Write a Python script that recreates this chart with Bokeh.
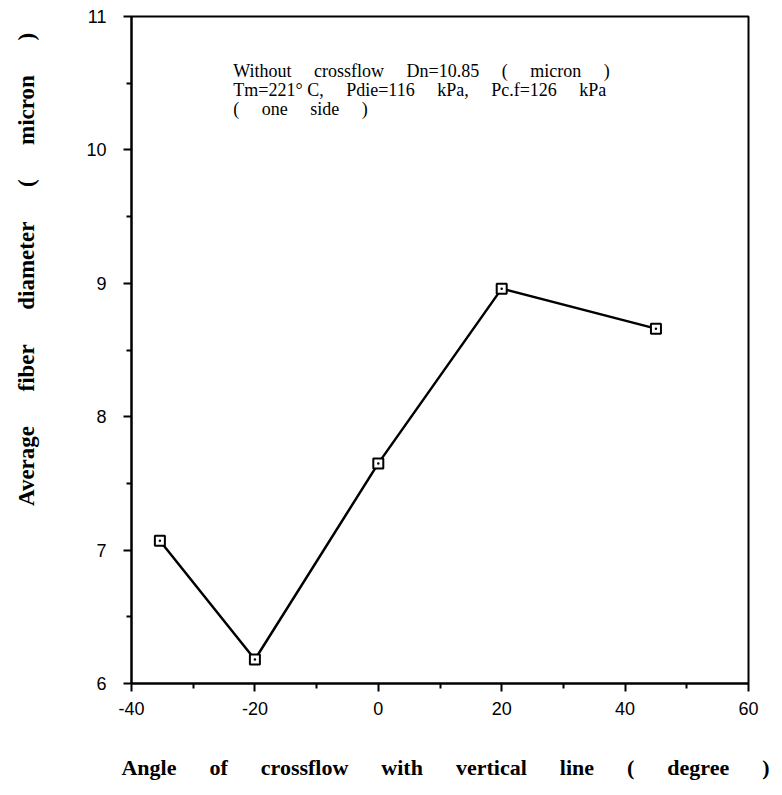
from bokeh.plotting import figure
from bokeh.models import FixedTicker, Label, Range1d
from bokeh.embed import file_html
from bokeh.resources import INLINE

# ---- data ----
angle = [-35.4, -20, 0, 20, 45]
diameter = [7.07, 6.18, 7.65, 8.96, 8.66]

x_ticks = [-40, -20, 0, 20, 40, 60]
x_tick_labels = ["-40", "-20", "0", "20", "40", "60"]
x_minor = [-30, -10, 10, 30, 50]
y_ticks = [6, 7, 8, 9, 10, 11]
y_tick_labels = ["6", "7", "8", "9", "10", "11"]
y_minor = [6.5, 7.5, 8.5, 9.5, 10.5]

note_lines = [
    "Without crossflow Dn=10.85 ( micron )",
    "Tm=221\u00b0\u00a0C, Pdie=116 kPa, Pc.f=126 kPa",
    "( one side )",
]
note_x = -23.5
note_y = [10.59, 10.45, 10.31]

x_label = "Angle of crossflow with vertical line ( degree )"
y_label = "Average fiber diameter ( micron )"

NB = "\u00a0"


def spaced(s, n):
    return (NB * n).join(s.split(" "))


p = figure(width=774, height=787,
           x_range=Range1d(-40, 60), y_range=Range1d(6, 11),
           output_backend="svg", toolbar_location=None,
           min_border_left=131, min_border_top=16,
           min_border_right=26, min_border_bottom=104)

p.background_fill_color = "white"
p.border_fill_color = "white"
p.outline_line_color = "black"
p.outline_line_width = 2
p.xgrid.visible = False
p.ygrid.visible = False

# axes
p.xaxis.ticker = FixedTicker(ticks=x_ticks, minor_ticks=x_minor)
p.yaxis.ticker = FixedTicker(ticks=y_ticks, minor_ticks=y_minor)
p.xaxis.major_label_overrides = {t: l for t, l in zip(x_ticks, x_tick_labels)}
p.yaxis.major_label_overrides = {t: l for t, l in zip(y_ticks, y_tick_labels)}

for ax in (p.xaxis[0], p.yaxis[0]):
    ax.axis_line_color = "black"
    ax.axis_line_width = 2
    ax.major_tick_line_color = "black"
    ax.major_tick_line_width = 2
    ax.major_tick_in = 0
    ax.major_tick_out = 8
    ax.minor_tick_line_color = "black"
    ax.minor_tick_line_width = 2
    ax.minor_tick_in = 0
    ax.minor_tick_out = 5
    ax.major_label_text_font = "Liberation Sans"
    ax.major_label_text_font_size = "18px"
    ax.major_label_text_color = "black"
    ax.axis_label_text_font = "Liberation Serif"
    ax.axis_label_text_font_style = "bold"
    ax.axis_label_text_color = "black"

p.xaxis.major_label_standoff = 10
p.yaxis.major_label_standoff = 17

# axis titles; leading no-break spaces shift them off-centre like the reference
p.xaxis.axis_label = NB * 2 + spaced(x_label, 6)
p.xaxis.axis_label_text_font_size = "22px"
p.xaxis.axis_label_standoff = 37
p.yaxis.axis_label = NB * 28 + spaced(y_label, 6)
p.yaxis.axis_label_text_font_size = "23px"
p.yaxis.axis_label_standoff = 44

# data
p.line(angle, diameter, line_color="black", line_width=2.5)
p.scatter(angle, diameter, marker="square_dot", size=10,
          fill_color="white", line_color="black", line_width=2)

# annotation
for txt, yy in zip(note_lines, note_y):
    p.add_layout(Label(x=note_x, y=yy, text=spaced(txt, 5),
                       text_font="Liberation Serif", text_font_size="18px",
                       text_baseline="middle", text_align="left",
                       text_color="black"))

open("out.html", "w").write(file_html(p, INLINE))
